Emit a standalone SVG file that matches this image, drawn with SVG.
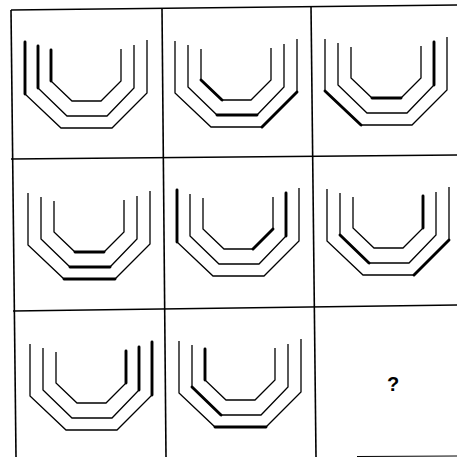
<svg xmlns="http://www.w3.org/2000/svg" xmlns:xlink="http://www.w3.org/1999/xlink" width="457" height="457" viewBox="0 0 457 457">
<style>
.grid{stroke:#000;stroke-width:1.6;fill:none}
.faint{stroke:#000;stroke-width:1;fill:none}
.thin{stroke:#000;stroke-width:1.3;fill:none;stroke-linejoin:miter}
.thick{stroke:#000;stroke-width:2.9;fill:none;stroke-linecap:round}
.q{font-family:"Liberation Sans",Arial,sans-serif;font-size:20px;font-weight:bold;fill:#000}
</style>
<defs>
<g id="shape">
<path class="thin" d="M0,0 V52 L36,86 H87 L122,51 V-2"/>
<path class="thin" d="M13,4 V46 L42,74 H82 L109,46 V3"/>
<path class="thin" d="M26,8 V39 L47,59 H76 L96,39 V7"/>
</g>
<path id="OLV" class="thick" d="M0,0 V52"/>
<path id="OLD" class="thick" d="M0,52 L36,86"/>
<path id="OB" class="thick" d="M36,86 H87"/>
<path id="ORD" class="thick" d="M87,86 L122,51"/>
<path id="ORV" class="thick" d="M122,51 V-2"/>
<path id="MLV" class="thick" d="M13,4 V46"/>
<path id="MLD" class="thick" d="M13,46 L42,74"/>
<path id="MB" class="thick" d="M42,74 H82"/>
<path id="MRD" class="thick" d="M82,74 L109,46"/>
<path id="MRV" class="thick" d="M109,46 V3"/>
<path id="ILV" class="thick" d="M26,8 V39"/>
<path id="ILD" class="thick" d="M26,39 L47,59"/>
<path id="IB" class="thick" d="M47,59 H76"/>
<path id="IRD" class="thick" d="M76,59 L96,39"/>
<path id="IRV" class="thick" d="M96,39 V7"/>
</defs>
<g id="grid">
<line class="grid" x1="11" y1="10" x2="457" y2="5"/>
<line class="grid" x1="11" y1="159" x2="457" y2="155"/>
<line class="grid" x1="13" y1="311" x2="457" y2="305"/>
<line class="faint" x1="357" y1="456.5" x2="457" y2="456"/>
<line class="grid" x1="11" y1="10" x2="16" y2="457"/>
<line class="grid" x1="162" y1="8" x2="166" y2="457"/>
<line class="grid" x1="311" y1="6" x2="316" y2="457"/>
</g>
<g id="cell1" transform="translate(25,42)">
<use xlink:href="#shape"/><use xlink:href="#OLV"/><use xlink:href="#MLV"/><use xlink:href="#ILV"/>
</g>
<g id="cell2" transform="translate(175,41)">
<use xlink:href="#shape"/><use xlink:href="#ILD"/><use xlink:href="#MB"/><use xlink:href="#ORD"/>
</g>
<g id="cell3" transform="translate(325,39)">
<use xlink:href="#shape"/><use xlink:href="#OLD"/><use xlink:href="#MRV"/><use xlink:href="#IB"/>
</g>
<g id="cell4" transform="translate(28,193)">
<use xlink:href="#shape"/><use xlink:href="#OB"/><use xlink:href="#MB"/><use xlink:href="#IB"/>
</g>
<g id="cell5" transform="translate(177,190)">
<use xlink:href="#shape"/><use xlink:href="#OLV"/><use xlink:href="#MRV"/><use xlink:href="#IRD"/>
</g>
<g id="cell6" transform="translate(327,189)">
<use xlink:href="#shape"/><use xlink:href="#MLD"/><use xlink:href="#ORD"/><use xlink:href="#IRV"/>
</g>
<g id="cell7" transform="translate(30,344)">
<use xlink:href="#shape"/><use xlink:href="#ORV"/><use xlink:href="#MRV"/><use xlink:href="#IRV"/>
</g>
<g id="cell8" transform="translate(179,341)">
<use xlink:href="#shape"/><use xlink:href="#ILV"/><use xlink:href="#MLD"/><use xlink:href="#OB"/>
</g>
<g id="cell9">
<text class="q" x="393" y="391" text-anchor="middle">?</text>
</g>
</svg>
